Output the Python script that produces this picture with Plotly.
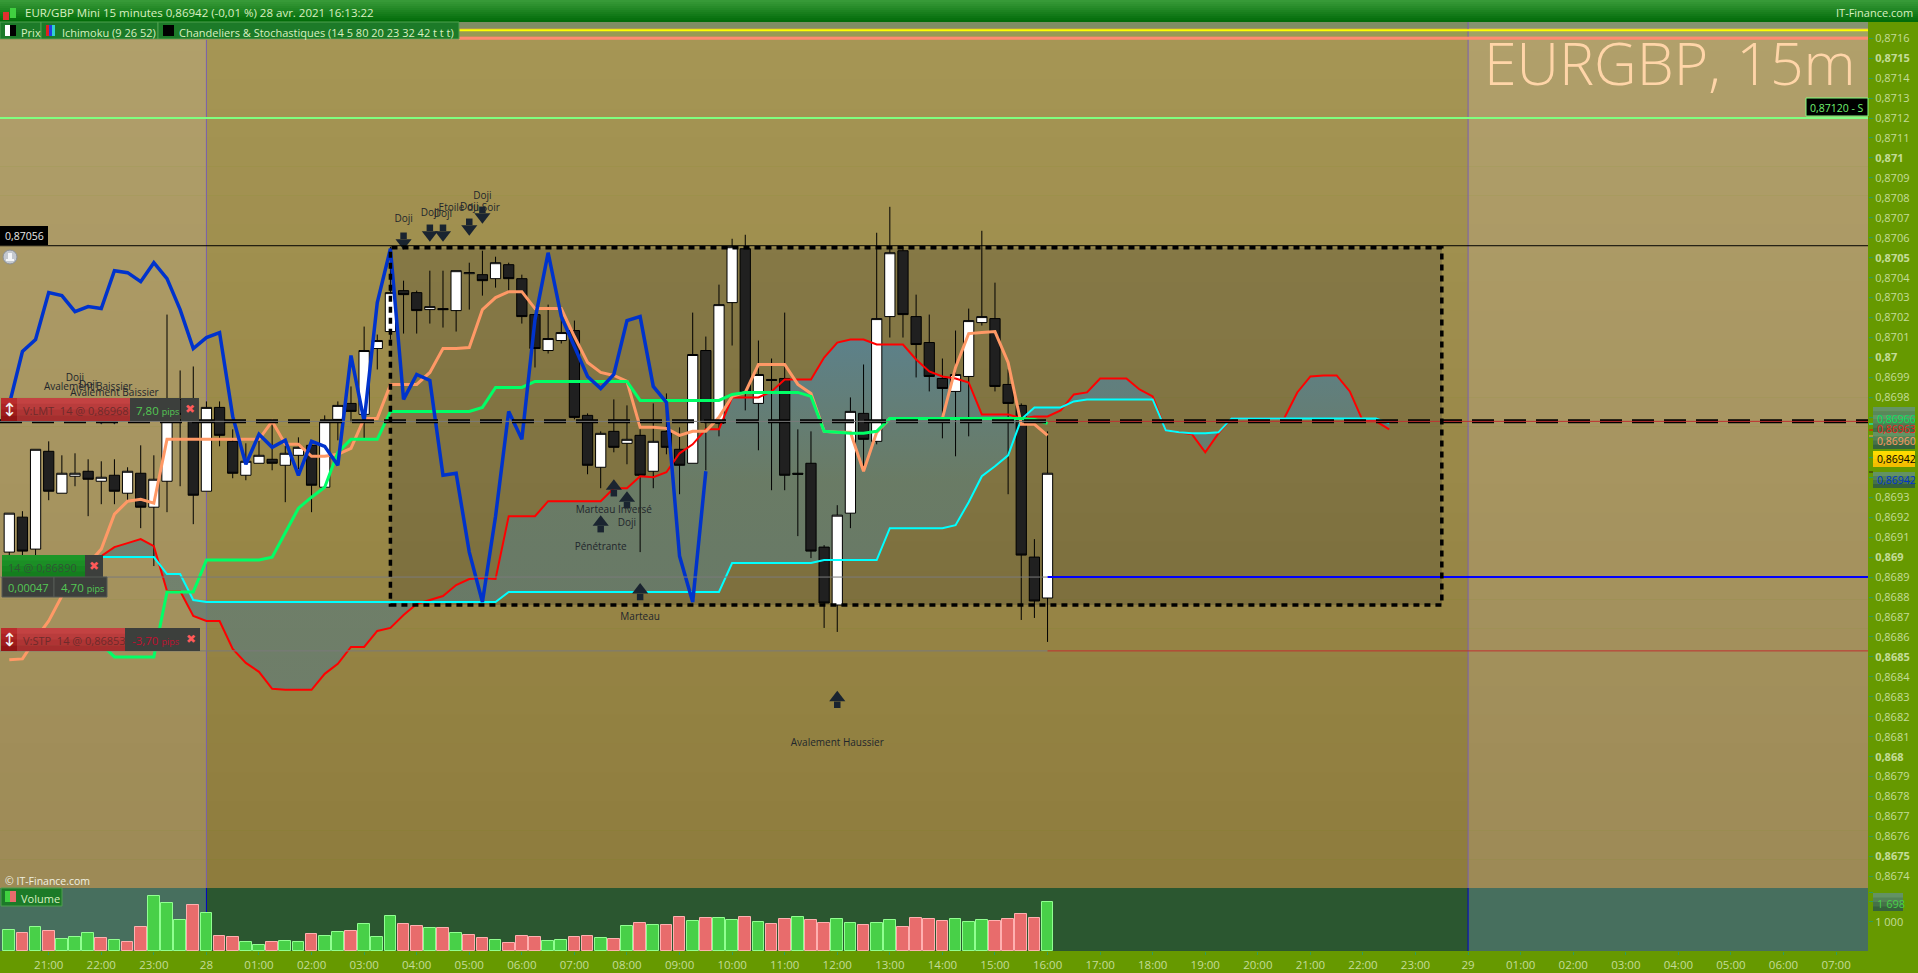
import pandas as pd
import plotly.graph_objects as go

W, H = 1918, 973
PLOT_R, MAIN_T, MAIN_B, VOL_B = 1868, 22, 888, 951
FONT = "Open Sans"
Y_RANGE = [0.867342, 0.871681]

# candles, 15 minutes bars from 27 avr. 20:15 to 28 avr. 16:00
opens = [0.869025, 0.8692, 0.86904, 0.86953, 0.86932, 0.869405, 0.86943, 0.86938, 0.86941, 0.86932,
         0.86942, 0.86925, 0.86938, 0.86979, 0.869715, 0.86933, 0.86975, 0.86958, 0.86941, 0.86947,
         0.86949, 0.86946, 0.86951, 0.86956, 0.86935, 0.86969, 0.86977, 0.869715, 0.870045, 0.87013,
         0.870335, 0.870325, 0.87024, 0.870245, 0.870235, 0.87042, 0.870415, 0.870395, 0.870465, 0.870395,
         0.870215, 0.870035, 0.870085, 0.870135, 0.86971, 0.86945, 0.86963, 0.86957, 0.86961, 0.86943,
         0.86963, 0.86954, 0.86947, 0.870035, 0.86967, 0.870275, 0.870545, 0.86977, 0.86989, 0.869895,
         0.86942, 0.86947, 0.86905, 0.86876, 0.86922, 0.86972, 0.86958, 0.870205, 0.870535, 0.870205,
         0.870075, 0.869895, 0.86983, 0.869905, 0.870175, 0.870195, 0.869865, 0.86976, 0.869, 0.868795]
highs = [0.86922, 0.86923, 0.86954, 0.86958, 0.86951, 0.86952, 0.86949, 0.86948, 0.86949, 0.86945,
         0.86956, 0.86951, 0.870215, 0.869935, 0.869955, 0.86978, 0.86978, 0.86964, 0.86957, 0.86959,
         0.869675, 0.86959, 0.8696, 0.869575, 0.86971, 0.86978, 0.869855, 0.870155, 0.870115, 0.870555,
         0.870385, 0.870335, 0.870435, 0.870435, 0.870435, 0.870475, 0.870535, 0.870505, 0.870475, 0.870415,
         0.870215, 0.870265, 0.87021, 0.870185, 0.86972, 0.86963, 0.86979, 0.86976, 0.86964, 0.86977,
         0.86982, 0.86965, 0.870225, 0.870105, 0.870365, 0.870595, 0.870615, 0.870085, 0.869995, 0.870225,
         0.86964, 0.86963, 0.86906, 0.86926, 0.8698, 0.869965, 0.870625, 0.870755, 0.870555, 0.870315,
         0.870215, 0.869995, 0.870135, 0.870245, 0.870635, 0.870375, 0.86994, 0.86977, 0.86909, 0.86963]
lows = [0.86901, 0.869005, 0.869005, 0.869285, 0.86932, 0.869355, 0.869205, 0.869265, 0.869265, 0.869285,
        0.869145, 0.868955, 0.869225, 0.869355, 0.869165, 0.86933, 0.869555, 0.869395, 0.869385, 0.86947,
        0.869435, 0.869275, 0.86944, 0.869225, 0.86935, 0.869585, 0.869675, 0.869595, 0.86994, 0.87009,
        0.87012, 0.87012, 0.87017, 0.87015, 0.87013, 0.87024, 0.87031, 0.87035, 0.87033, 0.87017,
        0.86995, 0.87002, 0.87007, 0.86969, 0.869415, 0.869345, 0.869525, 0.869465, 0.869025, 0.869345,
        0.869515, 0.869315, 0.86947, 0.869435, 0.869605, 0.87006, 0.869735, 0.869535, 0.869335, 0.869335,
        0.869105, 0.868995, 0.868645, 0.868625, 0.869145, 0.869455, 0.869565, 0.8701, 0.8701, 0.8699,
        0.86983, 0.869595, 0.869505, 0.869605, 0.87016, 0.86983, 0.869315, 0.868685, 0.868695, 0.868575]
closes = [0.86922, 0.86903, 0.86954, 0.86933, 0.86942, 0.86942, 0.86939, 0.8694, 0.86933, 0.86943,
          0.86925, 0.86939, 0.86974, 0.869715, 0.86931, 0.86975, 0.86961, 0.86942, 0.86948, 0.86951,
          0.86947, 0.86952, 0.86955, 0.86936, 0.86968, 0.86976, 0.86973, 0.870035, 0.870085, 0.870325,
          0.870315, 0.870235, 0.870255, 0.87024, 0.870435, 0.870425, 0.870385, 0.870475, 0.870395, 0.870205,
          0.870045, 0.870095, 0.870125, 0.8697, 0.86946, 0.86962, 0.86955, 0.86959, 0.86941, 0.86958,
          0.86955, 0.86946, 0.870015, 0.869675, 0.870265, 0.870555, 0.869825, 0.869915, 0.869885, 0.86941,
          0.869415, 0.86903, 0.86877, 0.86921, 0.86973, 0.86959, 0.870195, 0.870525, 0.870215, 0.870065,
          0.869905, 0.869845, 0.869915, 0.870185, 0.870205, 0.869855, 0.86977, 0.86901, 0.86878, 0.86942]

volumes = [711, 608, 814, 677, 401, 470, 608, 436, 367, 298, 814, 1881, 1640, 1055, 1571, 1296, 505, 470, 298, 195,
           298, 333, 298, 573, 505, 642, 677, 918, 470, 1193, 918, 849, 780, 780, 608, 539, 436, 367, 264, 505,
           470, 333, 367, 470, 505, 436, 401, 849, 952, 883, 883, 1158, 1021, 1124, 1124, 1055, 1158, 986, 918, 1090,
           1158, 1055, 952, 1090, 952, 883, 952, 1055, 814, 1124, 1090, 1021, 1090, 986, 1055, 1021, 1090, 1262, 1124, 1698]
volume_up = "grgrgggrgrrgggrgrrggrggrggrgggrrgrgrrgrrrggrrgrgrgrrgrggrgrrgrrggrggrrrrgggrrrrg"

# ichimoku
tenkan = [0.868485, 0.86849, 0.86859, 0.86868, 0.868805, 0.86889, 0.868965, 0.86904, 0.869215, 0.86928,
          0.86929, 0.86927, 0.86959, 0.86959, 0.86959, 0.86959, 0.86959, 0.86959, 0.86959, 0.86959,
          0.86968, 0.869565, 0.869565, 0.869505, 0.869505, 0.869515, 0.869545, 0.869695, 0.869695, 0.869865,
          0.869865, 0.869865, 0.869925, 0.870045, 0.870045, 0.87005, 0.87024, 0.8703, 0.87033, 0.87033,
          0.870245, 0.870245, 0.870245, 0.870105, 0.869975, 0.869925, 0.86991, 0.86988, 0.86965, 0.86965,
          0.869645, 0.86961, 0.86963, 0.86963, 0.8697, 0.869805, 0.869825, 0.869965, 0.869965, 0.869965,
          0.869865, 0.86982, 0.86963, 0.869625, 0.869625, 0.86943, 0.869625, 0.869695, 0.869695, 0.869695,
          0.869695, 0.869695, 0.86995, 0.87012, 0.870125, 0.87013, 0.869975, 0.869665, 0.869665, 0.86961]
kijun = [0.86859, 0.86859, 0.86859, 0.86859, 0.86859, 0.86859, 0.86859, 0.868565, 0.8685, 0.8685,
         0.8685, 0.8685, 0.868825, 0.868825, 0.868825, 0.868985, 0.868985, 0.868985, 0.868985, 0.868985,
         0.869, 0.869125, 0.869245, 0.8693, 0.86935, 0.869525, 0.86959, 0.86959, 0.86959, 0.86973,
         0.86973, 0.86973, 0.86973, 0.86973, 0.86973, 0.86973, 0.86975, 0.86985, 0.86985, 0.86985,
         0.86988, 0.86988, 0.86988, 0.86988, 0.86988, 0.86988, 0.86988, 0.86988, 0.869785, 0.869785,
         0.869785, 0.869785, 0.869785, 0.869785, 0.869785, 0.869815, 0.869825, 0.869825, 0.869825, 0.869825,
         0.869825, 0.869805, 0.86963, 0.869625, 0.86962, 0.86962, 0.86963, 0.869695, 0.869695, 0.869695,
         0.869695, 0.869695, 0.869695, 0.869695, 0.869695, 0.869695, 0.869695, 0.869695, 0.86969, 0.86967]
chikou = [0.869765, 0.87003, 0.87009, 0.870325, 0.87031, 0.87023, 0.870255, 0.870245, 0.870435, 0.870425,
          0.87038, 0.870475, 0.870395, 0.87024, 0.870045, 0.8701, 0.870125, 0.869705, 0.869465, 0.869615,
          0.86955, 0.869585, 0.86941, 0.86958, 0.869555, 0.86946, 0.87001, 0.86968, 0.870275, 0.870545,
          0.86979, 0.869915, 0.869885, 0.86941, 0.86942, 0.869025, 0.868775, 0.869205, 0.86973, 0.86959,
          0.87019, 0.870525, 0.870205, 0.870055, 0.869905, 0.869845, 0.869915, 0.870185, 0.870205, 0.869855,
          0.869775, 0.869005, 0.868775, 0.86943]
senkou_a = [0.868915, 0.868915, 0.86893, 0.86894, 0.86895, 0.868965, 0.86899, 0.869005, 0.86905, 0.86907,
            0.86909, 0.869055, 0.86883, 0.86883, 0.868705, 0.86868, 0.86868, 0.86854, 0.86847, 0.868425,
            0.86834, 0.868335, 0.868335, 0.868335, 0.868415, 0.868465, 0.86855, 0.86855, 0.86863, 0.868645,
            0.86871, 0.868765, 0.868785, 0.868805, 0.86886, 0.86889, 0.868895, 0.86889, 0.869205, 0.869205,
            0.869205, 0.86928, 0.86928, 0.86928, 0.86928, 0.86928, 0.869345, 0.869345, 0.869405, 0.8694,
            0.869425, 0.86952, 0.869565, 0.86964, 0.86964, 0.8698, 0.8698, 0.8698, 0.86983, 0.86989,
            0.86989, 0.86989, 0.87, 0.870075, 0.87009, 0.87009, 0.870065, 0.870065, 0.870065, 0.86999,
            0.86993, 0.869905, 0.869895, 0.869875, 0.869715, 0.869715, 0.869715, 0.869695, 0.869705, 0.869705,
            0.869735, 0.869815, 0.869825, 0.869895, 0.869895, 0.869895, 0.86984, 0.869805, 0.869635, 0.869625,
            0.869615, 0.869525, 0.86962, 0.869695, 0.869695, 0.869695, 0.869695, 0.869695, 0.869825, 0.869905,
            0.86991, 0.86991, 0.86983, 0.86968, 0.86968, 0.86964]
senkou_b = [0.869, 0.869, 0.869, 0.869, 0.869, 0.869, 0.869, 0.869, 0.869, 0.869,
            0.869, 0.869, 0.868915, 0.868915, 0.868785, 0.868775, 0.868775, 0.868775, 0.868775, 0.868775,
            0.868775, 0.868775, 0.868775, 0.868775, 0.868775, 0.868775, 0.868775, 0.868775, 0.868775, 0.868775,
            0.868775, 0.868775, 0.868775, 0.868775, 0.868775, 0.868775, 0.868775, 0.868775, 0.868825, 0.868825,
            0.868825, 0.868825, 0.868825, 0.868825, 0.868825, 0.868825, 0.868825, 0.868825, 0.868825, 0.868825,
            0.868825, 0.868825, 0.868825, 0.868825, 0.868825, 0.86897, 0.86897, 0.86897, 0.86897, 0.86897,
            0.86897, 0.86897, 0.868985, 0.868985, 0.868985, 0.868985, 0.868985, 0.869145, 0.869145, 0.869145,
            0.869145, 0.869145, 0.86916, 0.869275, 0.869405, 0.869455, 0.86951, 0.86969, 0.86975, 0.86975,
            0.86975, 0.86978, 0.86979, 0.86979, 0.86979, 0.86979, 0.86979, 0.86979, 0.869635, 0.869625,
            0.86962, 0.86962, 0.869625, 0.869695, 0.869695, 0.869695, 0.869695, 0.869695, 0.869695, 0.869695,
            0.869695, 0.869695, 0.869695, 0.869695, 0.869695, 0.86967]

# candle pattern labels
down_names = ["Doji", "Avalement Baissier", "Doji", "Avalement Baissier", "Doji", "Doji", "Doji", "Etoile du Soir", "Doji", "Doji"]
down_bars = [5, 6, 6, 8, 30, 32, 33, 35, 35, 36]
down_text = [0.869895, 0.86985, 0.86986, 0.86982, 0.87069, 0.87072, 0.870715, 0.870745, 0.87075, 0.870805]
arrow_down_bars = [5, 7, 8, 30, 32, 33, 35, 36]
arrow_down_tips = [0.86972, 0.869675, 0.869675, 0.87055, 0.87059, 0.87059, 0.87062, 0.87068]
up_names = ["Pénétrante", "Marteau Inversé", "Doji", "Marteau", "Avalement Haussier"]
up_bars = [45, 46, 47, 48, 63]
up_tips = [0.8692, 0.86938, 0.86932, 0.86886, 0.86832]
up_text = [0.86905, 0.869235, 0.86917, 0.868695, 0.868065]

price_ticks = [round(0.8716 - i * 0.0001, 4) for i in range(43)]
hour_labels = ["21:00", "22:00", "23:00", "28", "01:00", "02:00", "03:00", "04:00", "05:00", "06:00", "07:00", "08:00",
               "09:00", "10:00", "11:00", "12:00", "13:00", "14:00", "15:00", "16:00", "17:00", "18:00", "19:00", "20:00",
               "21:00", "22:00", "23:00", "29", "01:00", "02:00", "03:00", "04:00", "05:00", "06:00", "07:00"]

bar_times = pd.date_range("2021-04-27 20:15", periods=106, freq="15min")
hour_times = pd.date_range("2021-04-27 21:00", periods=len(hour_labels), freq="h")
first_t = pd.Timestamp("2021-04-27 20:04:24")
last_t = pd.Timestamp("2021-04-29 07:36:25")


def px(x):
    return x / W


def py(y):
    return 1 - y / H


def mix(c1, c2, t):
    a = [int(c1[i:i + 2], 16) for i in (1, 3, 5)]
    b = [int(c2[i:i + 2], 16) for i in (1, 3, 5)]
    return "#%02x%02x%02x" % tuple(round(a[i] + (b[i] - a[i]) * t) for i in range(3))


shapes = []
texts = []


def rect(x0, y0, x1, y1, color, layer="above", line=None):
    shapes.append(dict(type="rect", xref="paper", yref="paper", x0=px(x0), x1=px(x1), y0=py(y0), y1=py(y1),
                       fillcolor=color, layer=layer, line=dict(width=1 if line else 0, color=line or color)))


def grad(x0, y0, x1, y1, top, bottom, n=8, layer="above"):
    for k in range(n):
        a = y0 + (y1 - y0) * k / n
        b = y0 + (y1 - y0) * (k + 1) / n
        rect(x0, a, x1, b + (0.5 if k < n - 1 else 0), mix(top, bottom, (k + 0.5) / n), layer)


def label(text, x, y, size=11, color="#ffffff", anchor="left", family=FONT, weight=None):
    font = dict(family=family, size=size, color=color)
    if weight:
        font["weight"] = weight
    texts.append(dict(text=text, xref="paper", yref="paper", x=px(x), y=py(y), xanchor=anchor, yanchor="middle",
                      showarrow=False, font=font))


def hline(price, t0, t1, color, width=1, dash="solid"):
    shapes.append(dict(type="line", xref="x", yref="y", x0=t0, x1=t1, y0=price, y1=price, layer="above",
                       line=dict(color=color, width=width, dash=dash)))


# window background panels
X28, X29 = 206.4, 1468
grad(0, MAIN_T, X28, MAIN_B, "#b1a06b", "#9d8a56", 30, "below")
grad(X28, MAIN_T, X29, MAIN_B, "#a69655", "#8e7c3d", 30, "below")
grad(X29, MAIN_T, PLOT_R, MAIN_B, "#b1a06b", "#9d8a56", 30, "below")
rect(0, MAIN_B, X28, VOL_B, "#476f5e", "below")
rect(X28, MAIN_B, X29, VOL_B, "#2b5730", "below")
rect(X29, MAIN_B, PLOT_R, VOL_B, "#476f5e", "below")
rect(0, 22, PLOT_R, 28, "rgba(80,130,120,0.45)", "below")
rect(0, 30, PLOT_R, 36, "rgba(110,170,80,0.25)", "below")

# shaded box of the range
shapes.append(dict(type="rect", xref="x", yref="y", x0="2021-04-28 03:30", x1="2021-04-28 23:30",
                   y0=0.86876, y1=0.87055, fillcolor="rgba(40,40,40,0.22)", layer="below", line=dict(width=0)))

# day separators
for day in ["2021-04-28 00:00", "2021-04-29 00:00"]:
    shapes.append(dict(type="line", xref="x", yref="paper", x0=day, x1=day, y0=py(MAIN_B), y1=py(MAIN_T),
                       layer="below", line=dict(color="#7a5fb0", width=1)))
    shapes.append(dict(type="line", xref="x", yref="paper", x0=day, x1=day, y0=py(VOL_B), y1=py(MAIN_B),
                       layer="below", line=dict(color="#0000cc", width=1)))

now_t = bar_times[79]
hline(0.87164, first_t, last_t, "#ffff00", 2)
hline(0.8716, first_t, last_t, "#ff8c70", 3)
hline(0.8712, first_t, last_t, "#80ff80", 2)
hline(0.87056, first_t, last_t, "#000000", 1)
hline(0.86968, first_t, last_t, "#000000", 4, "22px,10px")
hline(0.86968, first_t, now_t, "#7a7a7a", 1)
hline(0.86968, now_t, last_t, "#c03030", 1)
hline(0.8689, first_t, now_t, "#7a7a7a", 1)
hline(0.8689, now_t, last_t, "#0000ff", 2)
hline(0.86853, first_t, now_t, "#7a7a7a", 1)
hline(0.86853, now_t, last_t, "#c03030", 1)
shapes.append(dict(type="rect", xref="x", yref="y", x0="2021-04-28 03:30", x1="2021-04-28 23:30",
                   y0=0.86876, y1=0.87055, layer="above", line=dict(color="#000000", width=3.5, dash="6px,5px")))

fig = go.Figure()

# cloud on the lower subplot, everything else on the overlay so candles stay above the fill
fig.add_trace(go.Scatter(x=bar_times, y=senkou_b, mode="lines", line=dict(width=0), hoverinfo="skip"))
fig.add_trace(go.Scatter(x=bar_times, y=senkou_a, mode="lines", line=dict(width=0), hoverinfo="skip",
                         fill="tonexty",
                         fillgradient=dict(type="vertical", start=0.86833, stop=0.87009,
                                           colorscale=[[0, "rgba(96,124,120,0.72)"], [0.6, "rgba(100,125,110,0.8)"],
                                                       [1, "rgba(88,130,146,0.9)"]])))

fig.add_trace(go.Candlestick(x=bar_times[:80], open=opens, high=highs, low=lows, close=closes, whiskerwidth=0,
                             yaxis="y3",
                             increasing=dict(fillcolor="#ffffff", line=dict(color="#000000", width=1)),
                             decreasing=dict(fillcolor="#202020", line=dict(color="#000000", width=1)),
                             hoverinfo="skip"))

fig.add_trace(go.Scatter(x=bar_times, y=senkou_a, mode="lines", yaxis="y3", line=dict(color="#ff0000", width=2)))
fig.add_trace(go.Scatter(x=bar_times, y=senkou_b, mode="lines", yaxis="y3", line=dict(color="#00ffff", width=2)))
fig.add_trace(go.Scatter(x=bar_times[:80], y=tenkan, mode="lines", yaxis="y3", line=dict(color="#ff9966", width=3)))
fig.add_trace(go.Scatter(x=bar_times[:80], y=kijun, mode="lines", yaxis="y3", line=dict(color="#00ff66", width=3)))
fig.add_trace(go.Scatter(x=bar_times[:54], y=chikou, mode="lines", yaxis="y3", line=dict(color="#0033cc", width=3.5)))

# pattern arrows, stem and head, one pixel is 0.000005
arrow_color = "#1a2430"
down_x = [bar_times[i] for i in arrow_down_bars]
up_x = [bar_times[i] for i in up_bars]
fig.add_trace(go.Scatter(x=down_x, y=[p + 0.00006 for p in arrow_down_tips], mode="markers", yaxis="y3",
                         marker=dict(symbol="square", size=6.5, color=arrow_color)))
fig.add_trace(go.Scatter(x=down_x, y=[p + 0.000025 for p in arrow_down_tips], mode="markers", yaxis="y3",
                         marker=dict(symbol="triangle-down", size=14, color=arrow_color)))
fig.add_trace(go.Scatter(x=up_x, y=[p - 0.00006 for p in up_tips], mode="markers", yaxis="y3",
                         marker=dict(symbol="square", size=6.5, color=arrow_color)))
fig.add_trace(go.Scatter(x=up_x, y=[p - 0.000025 for p in up_tips], mode="markers", yaxis="y3",
                         marker=dict(symbol="triangle-up", size=14, color=arrow_color)))
fig.add_trace(go.Scatter(x=[bar_times[i] for i in down_bars + up_bars], y=down_text + up_text, mode="text", yaxis="y3",
                         text=down_names + up_names, textposition="middle center",
                         textfont=dict(family=FONT, size=10, color="#22262c")))

# volume panel
fig.add_trace(go.Bar(x=bar_times[:80], y=volumes, width=800000, xaxis="x2", yaxis="y2",
                     marker=dict(color=["#48d048" if c == "g" else "#e86c6c" for c in volume_up],
                                 line=dict(color=["#90ff90" if c == "g" else "#ffb0b0" for c in volume_up], width=1))))

# title bar and legend row
grad(0, 0, W, 22, "#3a9c3a", "#006a08", 11)
rect(3, 12, 9, 20, "#e03030")
rect(10, 8, 16, 18, "#40d040")
label("EUR/GBP Mini 15 minutes 0,86942 (-0,01 %) 28 avr. 2021 16:13:22", 23, 12, 11.5, "#d8f0c0")
label("IT-Finance.com", 1915, 13, 11, "#d8f0c0", "right")
for x0, x1 in [(0, 41), (41, 158), (158, 459)]:
    rect(x0, 22, x1, 39, "#1c7a28", line="#4fa04f")
rect(5, 25, 10, 36, "#ffffff")
rect(10, 25, 16, 36, "#000000")
rect(46, 25, 49, 36, "#e02020")
rect(49, 25, 52, 36, "#2040e0")
rect(52, 25, 55, 36, "#30d0d0")
rect(163, 25, 174, 36, "#000000")
label("Prix", 19, 32, 11, "#d8f0c0")
label("Ichimoku (9 26 52)", 60, 32, 11, "#d8f0c0")
label("Chandeliers &amp; Stochastiques (14 5 80 20 23 32 42 t t t)", 177, 32, 11, "#d8f0c0")

label("EURGBP, 15m", 1858, 62, 59, "#ffd5a8", "right", weight=300)

# price tags on the lines
rect(0, 226, 48, 245, "#000000")
label("0,87056", 3, 236, 10.5, "#e8e8e8")
rect(1806, 98, PLOT_R, 116, "#000000", line="#80ff80")
label("0,87120 - S", 1808, 108, 10.5, "#70f070")
shapes.append(dict(type="circle", xref="paper", yref="paper", x0=px(3), x1=px(17), y0=py(264), y1=py(250),
                   fillcolor="#c4c9cf", layer="above", line=dict(color="#8a8f94", width=1)))
rect(8, 253, 12, 260, "#f4f6f8")
rect(6, 259, 14, 261, "#f4f6f8")
label("© IT-Finance.com", 3, 881, 10.5, "#f0f0e0")

# order tickets
dark = "#3c3f3c"
err = "#ff5a5a"
grad(1, 398, 17, 421, "#c03030", "#8c1010", 4)
grad(17, 398, 130, 421, "#c84646", "#a02a2a", 4)
rect(130, 398, 180, 421, dark)
rect(181, 398, 199, 421, dark)
label("↕", 9, 409, 18, "#f4f4f4", "center", "DejaVu Sans")
label("V:LMT&nbsp; 14 @ 0,86968", 21, 410, 11, "#6e2b2b")
label("7,80 <span style='font-size:9px'>pips</span>", 134, 410, 11.5, "#54c854")
label("✖", 190, 409, 12, err, "center", "DejaVu Sans")

grad(2, 555, 85, 577, "#209a2a", "#127a1c", 4)
rect(85, 555, 103, 577, dark)
label("14 @ 0,86890", 6, 567, 11, "#2f5634")
label("✖", 94, 566, 12, err, "center", "DejaVu Sans")
rect(2, 577, 54, 597, dark, line="#555a55")
rect(54, 577, 107, 597, dark, line="#555a55")
label("0,00047", 6, 587, 11, "#54c854")
label("4,70 <span style='font-size:9px'>pips</span>", 59, 587, 11.5, "#54c854")

grad(1, 628, 17, 651, "#c03030", "#8c1010", 4)
grad(17, 628, 125, 651, "#c84646", "#a02a2a", 4)
rect(125, 628, 181, 651, dark)
rect(181, 628, 200, 651, dark)
label("↕", 9, 639, 18, "#f4f4f4", "center", "DejaVu Sans")
label("V:STP&nbsp; 14 @ 0,86853", 21, 640, 11, "#6e2b2b")
label("-3,70 <span style='font-size:9px'>pips</span>", 130, 640, 11.5, "#c01030")
label("✖", 191, 639, 12, err, "center", "DejaVu Sans")

rect(1, 888, 62, 906, "#1c7a28", line="#4fa04f")
rect(5, 891, 10, 902, "#40d040")
rect(10, 891, 16, 902, "#e86c6c")
label("Volume", 19, 898, 11, "#d8f0c0")

# tags on the right axis
for tag_y, c in [(424, "#00ffff"), (430, "#ff0000"), (436, "#ff9966"), (472, "#302010")]:
    rect(1869, tag_y - 0.5, 1873, tag_y + 0.5, c)
grad(1873, 407, 1915, 424, "#6a9a6a", "#3a6a40", 4)
label("0,86966", 1875, 419, 10.5, "#00e060")
grad(1873, 415, 1915, 432, "#6a9a6a", "#3a6a40", 4)
label("0,86963", 1875, 429, 10.5, "#f02020")
grad(1873, 432, 1915, 449, "#6a9a6a", "#2f5a34", 4)
label("0,86960", 1875, 441, 10.5, "#ff9966")
grad(1873, 451, 1915, 467, "#ffe000", "#f0b800", 4)
label("0,86942", 1875, 459, 10.5, "#000000")
grad(1873, 472, 1915, 488, "#6a9a6a", "#2f5a34", 4)
label("0,86942", 1875, 480, 10.5, "#0033cc")
grad(1873, 893, 1903, 911, "#6a9a6a", "#2f5a34", 4)
label("1 698", 1875, 903, 11, "#48d048")

tick_text = []
for p in price_ticks:
    s = ("%.4f" % p).rstrip("0").replace(".", ",")
    if round(p * 10000) % 5 == 0:
        tick_text.append("<b>" + s + "</b>")
    else:
        tick_text.append(s)

fig.update_layout(
    width=W, height=H, margin=dict(l=0, r=0, t=0, b=0), autosize=False,
    paper_bgcolor="#669900", plot_bgcolor="rgba(0,0,0,0)", showlegend=False,
    separators=", ", boxgap=0.22, boxgroupgap=0, bargap=0, hovermode=False,
    font=dict(family=FONT, size=12, color="#c4dc98"),
    shapes=shapes, annotations=texts,
    xaxis=dict(domain=[0, px(PLOT_R)], range=[first_t, last_t], anchor="y", matches="x2", showticklabels=False,
               showgrid=False, zeroline=False, ticks="", automargin=False, rangeslider=dict(visible=False)),
    yaxis=dict(domain=[py(MAIN_B), py(MAIN_T)], range=Y_RANGE, side="right", anchor="x", automargin=False,
               tickmode="array", tickvals=price_ticks, ticktext=tick_text, showgrid=False, zeroline=False,
               ticks="outside", ticklen=4, tickcolor="#2e9c5e", tickfont=dict(size=11, color="#c4dc98")),
    yaxis3=dict(overlaying="y", range=Y_RANGE, side="right", anchor="x", visible=False, automargin=False),
    xaxis2=dict(domain=[0, px(PLOT_R)], range=[first_t, last_t], anchor="y2", tickmode="array", tickvals=hour_times,
                ticktext=hour_labels, showgrid=False, zeroline=False, ticks="outside", ticklen=3, tickcolor="#2e9c5e",
                tickangle=0, tickfont=dict(size=11.5, color="#c4dc98"), automargin=False),
    yaxis2=dict(domain=[py(VOL_B), py(MAIN_B)], range=[0, 2170], side="right", anchor="x2", tickmode="array",
                tickvals=[1000, 1698, 2000], ticktext=["1 000", "", ""], showgrid=False, zeroline=False,
                ticks="outside", ticklen=4, tickcolor="#2e9c5e", tickfont=dict(size=11, color="#c4dc98"),
                automargin=False),
)

fig.write_html("out.html", config=dict(displayModeBar=False),
               post_script="document.body.style.margin='0';document.body.style.overflow='hidden';")
